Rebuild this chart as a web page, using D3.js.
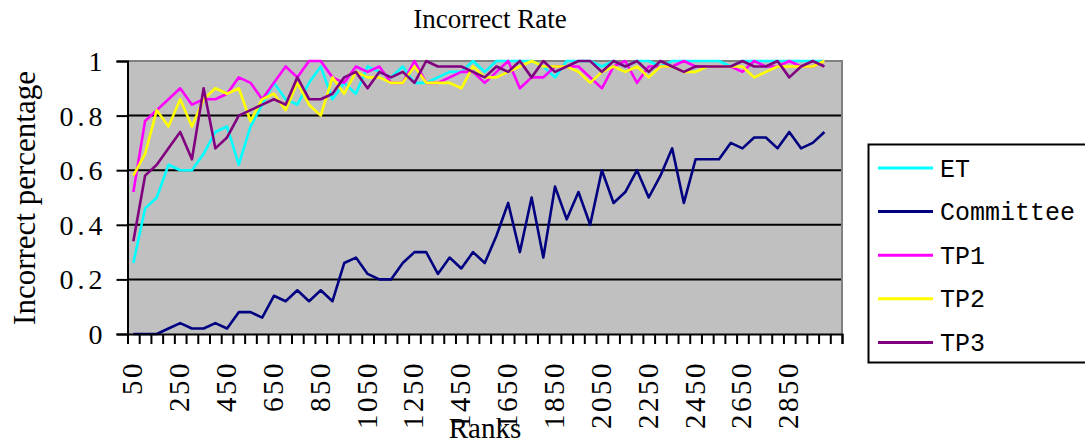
<!DOCTYPE html>
<html>
<head>
<meta charset="utf-8">
<script src="https://cdn.jsdelivr.net/npm/d3@7"></script>
<style>
  html, body { margin: 0; padding: 0; background: #ffffff; }
  svg { display: block; }
</style>
</head>
<body>
<svg id="chart" width="1085" height="445"></svg>
<script>
// Rank buckets (every 50 ranks)
const ranks = [50, 100, 150, 200, 250, 300, 350, 400, 450, 500,
  550, 600, 650, 700, 750, 800, 850, 900, 950, 1000,
  1050, 1100, 1150, 1200, 1250, 1300, 1350, 1400, 1450, 1500,
  1550, 1600, 1650, 1700, 1750, 1800, 1850, 1900, 1950, 2000,
  2050, 2100, 2150, 2200, 2250, 2300, 2350, 2400, 2450, 2500,
  2550, 2600, 2650, 2700, 2750, 2800, 2850, 2900, 2950, 3000];

// Incorrect rate per method
const etRate = [0.26, 0.46, 0.50, 0.62, 0.60, 0.60, 0.66, 0.74, 0.76, 0.62,
  0.76, 0.84, 0.92, 0.86, 0.84, 0.92, 0.98, 0.86, 0.92, 0.88,
  0.98, 0.96, 0.94, 0.98, 0.92, 0.92, 0.94, 0.96, 0.96, 1.00,
  0.96, 1.00, 1.00, 1.00, 1.00, 0.98, 0.94, 1.00, 1.00, 1.00,
  0.98, 1.00, 0.98, 1.00, 1.00, 0.98, 1.00, 1.00, 1.00, 1.00,
  1.00, 0.98, 1.00, 1.00, 1.00, 1.00, 1.00, 1.00, 1.00, 1.00];

const committeeRate = [0.00, 0.00, 0.00, 0.02, 0.04, 0.02, 0.02, 0.04, 0.02, 0.08,
  0.08, 0.06, 0.14, 0.12, 0.16, 0.12, 0.16, 0.12, 0.26, 0.28,
  0.22, 0.20, 0.20, 0.26, 0.30, 0.30, 0.22, 0.28, 0.24, 0.30,
  0.26, 0.36, 0.48, 0.30, 0.50, 0.28, 0.54, 0.42, 0.52, 0.40,
  0.60, 0.48, 0.52, 0.60, 0.50, 0.58, 0.68, 0.48, 0.64, 0.64,
  0.64, 0.70, 0.68, 0.72, 0.72, 0.68, 0.74, 0.68, 0.70, 0.74];

const tp1Rate = [0.52, 0.78, 0.82, 0.86, 0.90, 0.84, 0.86, 0.86, 0.88, 0.94,
  0.92, 0.86, 0.92, 0.98, 0.94, 1.00, 1.00, 0.94, 0.92, 0.98,
  0.96, 0.98, 0.92, 0.92, 1.00, 0.92, 0.92, 0.94, 0.96, 0.96,
  0.92, 0.96, 1.00, 0.90, 0.94, 0.94, 0.98, 0.98, 0.98, 0.94,
  0.90, 0.98, 1.00, 0.92, 0.98, 0.98, 0.98, 1.00, 0.98, 0.98,
  0.98, 0.98, 0.96, 1.00, 0.98, 0.98, 1.00, 0.98, 0.98, 1.00];

const tp2Rate = [0.58, 0.66, 0.82, 0.76, 0.86, 0.76, 0.86, 0.90, 0.88, 0.90,
  0.78, 0.86, 0.88, 0.82, 0.92, 0.84, 0.80, 0.94, 0.88, 0.96,
  0.94, 0.94, 0.92, 0.92, 0.98, 0.92, 0.92, 0.92, 0.90, 0.98,
  0.94, 0.94, 0.96, 0.98, 1.00, 0.98, 0.98, 0.98, 0.96, 0.92,
  0.96, 0.98, 0.96, 0.98, 0.94, 0.98, 0.98, 0.96, 0.96, 0.98,
  0.98, 0.98, 0.98, 0.94, 0.96, 0.98, 0.98, 0.98, 0.98, 1.00];

const tp3Rate = [0.34, 0.58, 0.62, 0.68, 0.74, 0.64, 0.90, 0.68, 0.72, 0.80,
  0.82, 0.84, 0.86, 0.84, 0.94, 0.86, 0.86, 0.88, 0.94, 0.96,
  0.90, 0.96, 0.94, 0.96, 0.92, 1.00, 0.98, 0.98, 0.98, 0.96,
  0.94, 0.98, 0.96, 1.00, 0.94, 1.00, 0.96, 0.98, 1.00, 1.00,
  0.96, 1.00, 0.98, 1.00, 0.96, 1.00, 0.98, 0.96, 0.98, 0.98,
  0.98, 0.98, 1.00, 0.98, 0.98, 1.00, 0.94, 0.98, 1.00, 0.98];

const seriesNames = ["ET", "Committee", "TP1", "TP2", "TP3"];
const seriesColors = ["#00ffff", "#000080", "#ff00ff", "#ffff00", "#800080"];
const seriesValues = [etRate, committeeRate, tp1Rate, tp2Rate, tp3Rate];

const xTickLabels = ["50", "250", "450", "650", "850", "1050", "1250", "1450",
  "1650", "1850", "2050", "2250", "2450", "2650", "2850"];
const yTickValues = [0, 0.2, 0.4, 0.6, 0.8, 1];

const svg = d3.select("#chart");
const plot = { left: 127.5, right: 842, top: 61, bottom: 334 };

// one spare category slot after the last rank
const slotCount = ranks.length + 1;
const x = d3.scaleLinear().domain([0, slotCount]).range([plot.left, plot.right]);
const y = d3.scaleLinear().domain([0, 1]).range([plot.bottom, plot.top]);
const cx = i => x(i + 0.5);

// plot background
svg.append("rect")
  .attr("x", plot.left).attr("y", plot.top)
  .attr("width", plot.right - plot.left).attr("height", plot.bottom - plot.top)
  .attr("fill", "#c0c0c0");

// horizontal gridlines
svg.append("g").selectAll("line")
  .data(yTickValues.filter(v => v > 0 && v < 1))
  .join("line")
  .attr("x1", plot.left).attr("x2", plot.right)
  .attr("y1", d => y(d)).attr("y2", d => y(d))
  .attr("stroke", "#000").attr("stroke-width", 2);

// top and right frame
svg.append("path")
  .attr("d", `M${plot.left},${y(1)}H${plot.right}V${plot.bottom}`)
  .attr("fill", "none").attr("stroke", "#808080").attr("stroke-width", 2);

// series lines
const line = d3.line().x((d, i) => cx(i)).y(d => y(d));
svg.append("g").selectAll("path")
  .data(seriesValues)
  .join("path")
  .attr("d", d => line(d))
  .attr("fill", "none")
  .attr("stroke", (d, i) => seriesColors[i])
  .attr("stroke-width", 2.6)
  .attr("stroke-linejoin", "round");

// y axis
const yAxis = svg.append("g")
  .attr("transform", `translate(${plot.left},0)`)
  .call(d3.axisLeft(y).tickValues(yTickValues).tickSize(11)
    .tickFormat(d => (d === 0 || d === 1) ? String(d) : d.toFixed(1)));
yAxis.select(".domain").attr("stroke", "#000").attr("stroke-width", 2);
yAxis.selectAll(".tick line").attr("stroke", "#000").attr("stroke-width", 2);
yAxis.selectAll(".tick text")
  .attr("x", -21)
  .attr("dy", null)
  .attr("dominant-baseline", "central")
  .style("font-family", "'Liberation Serif', 'Times New Roman', serif")
  .style("font-size", "28px")
  .style("letter-spacing", "4px")
  .attr("fill", "#000");

// x axis: tick marks at every category boundary
const xAxis = svg.append("g")
  .attr("transform", `translate(0,${plot.bottom})`)
  .call(d3.axisBottom(x).tickValues(d3.range(slotCount + 1)).tickSize(10).tickFormat(""));
xAxis.select(".domain").attr("stroke", "#000").attr("stroke-width", 2);
xAxis.selectAll(".tick line").attr("stroke", "#000").attr("stroke-width", 2);

// rotated rank labels
svg.append("g").selectAll("text")
  .data(xTickLabels)
  .join("text")
  .attr("transform", d => `translate(${cx(ranks.indexOf(+d)) - 1},${plot.bottom + 27}) rotate(-90)`)
  .attr("text-anchor", "end")
  .attr("dominant-baseline", "central")
  .style("font-family", "'Liberation Serif', 'Times New Roman', serif")
  .style("font-size", "29px")
  .style("letter-spacing", "2.5px")
  .attr("fill", "#000")
  .text(d => d);

// titles
svg.append("text")
  .attr("x", 490).attr("y", 28)
  .attr("text-anchor", "middle")
  .style("font-family", "'Liberation Serif', 'Times New Roman', serif")
  .style("font-size", "27px")
  .text("Incorrect Rate");

svg.append("text")
  .attr("x", 485).attr("y", 438)
  .attr("text-anchor", "middle")
  .style("font-family", "'Liberation Serif', 'Times New Roman', serif")
  .style("font-size", "29px")
  .text("Ranks");

svg.append("text")
  .attr("transform", "translate(35,198) rotate(-90)")
  .attr("text-anchor", "middle")
  .style("font-family", "'Liberation Serif', 'Times New Roman', serif")
  .style("font-size", "31px")
  .text("Incorrect percentage");

// legend
const legend = svg.append("g");
legend.append("rect")
  .attr("x", 868.5).attr("y", 144.5)
  .attr("width", 240).attr("height", 218)
  .attr("fill", "#fff").attr("stroke", "#000").attr("stroke-width", 2);
const rowY = i => 168 + i * 43.6;
const items = legend.selectAll("g.item")
  .data(seriesNames)
  .join("g").attr("class", "item");
items.append("line")
  .attr("x1", 878).attr("x2", 933)
  .attr("y1", (d, i) => rowY(i)).attr("y2", (d, i) => rowY(i))
  .attr("stroke", (d, i) => seriesColors[i])
  .attr("stroke-width", 3);
items.append("text")
  .attr("x", 940).attr("y", (d, i) => rowY(i) + 2)
  .attr("dominant-baseline", "central")
  .style("font-family", "'Liberation Mono', 'DejaVu Sans Mono', monospace")
  .style("font-size", "25px")
  .attr("fill", "#000")
  .text(d => d);
</script>
</body>
</html>
